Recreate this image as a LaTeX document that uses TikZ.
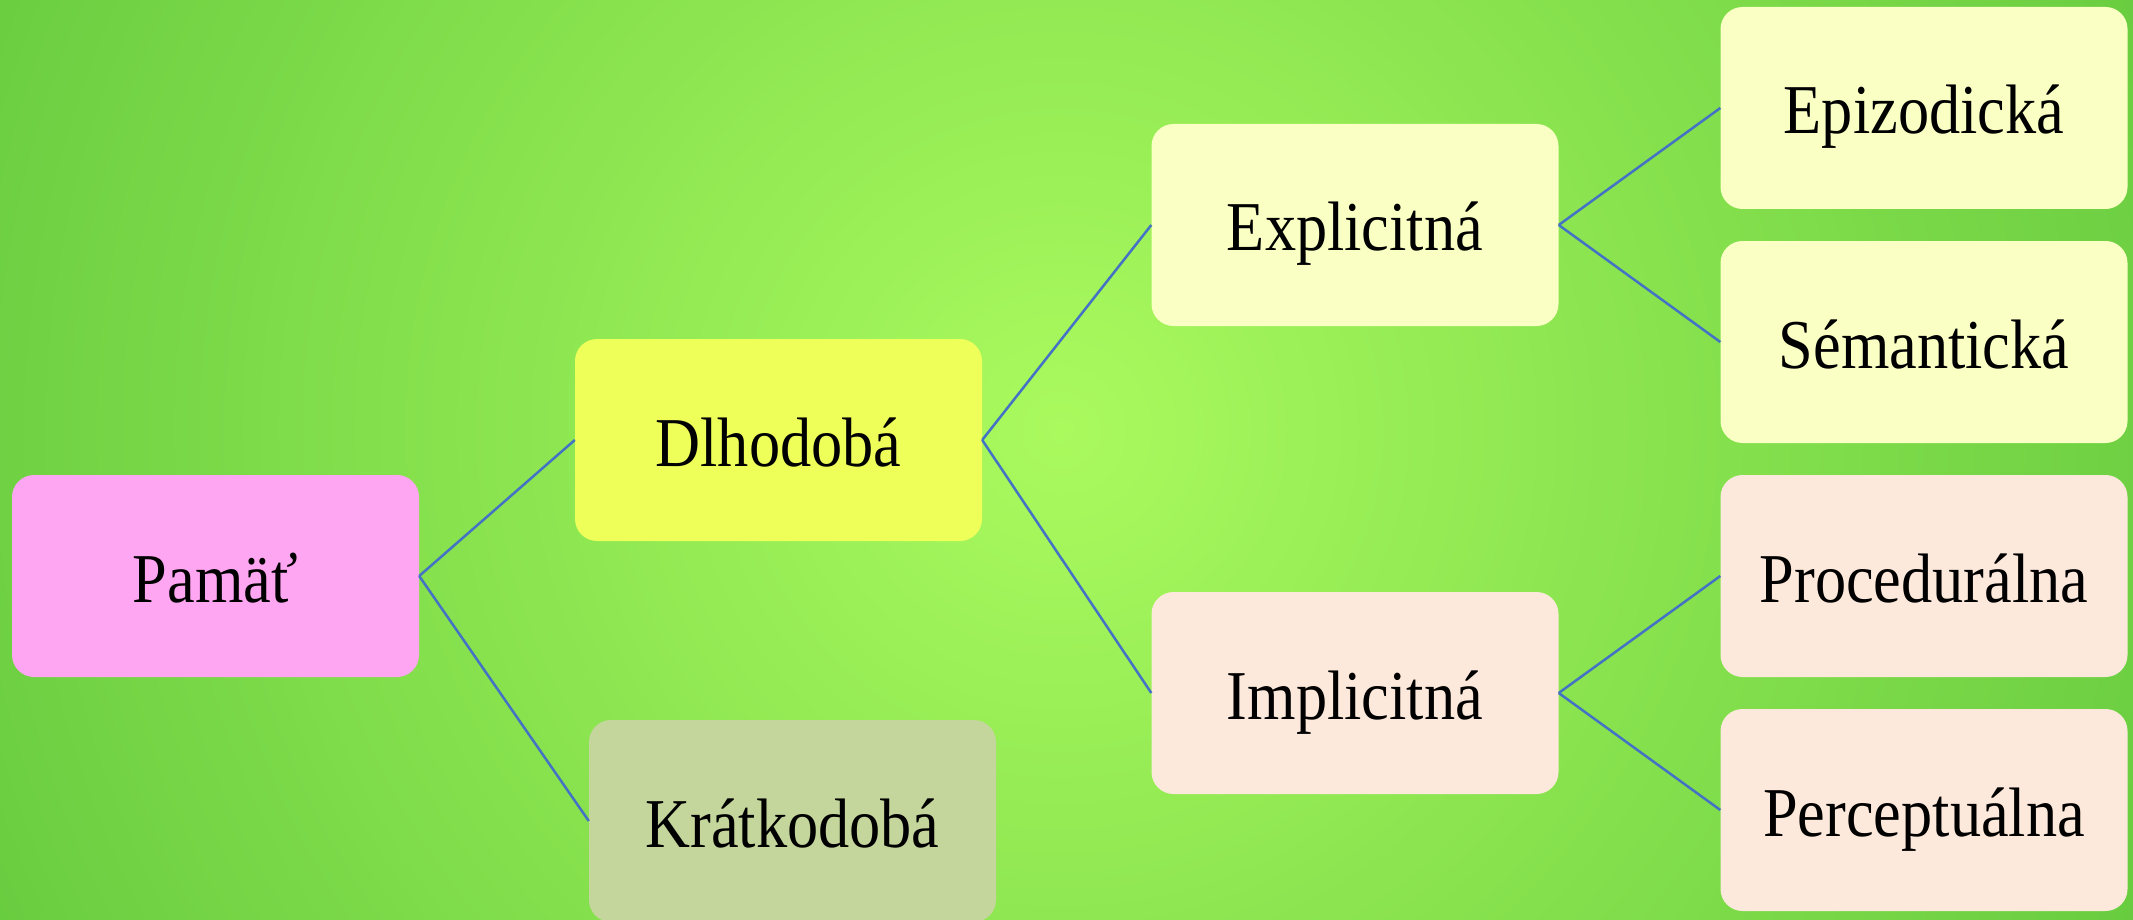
\documentclass[tikz,border=0pt]{standalone}
\usepackage{graphicx}
\usepackage{fontspec}
\setmainfont{Liberation Serif}
\definecolor{bgin}{RGB}{170,250,94}
\definecolor{bgout}{RGB}{70,180,48}
\definecolor{linkblue}{RGB}{68,114,196}
\definecolor{cpink}{RGB}{255,166,242}
\definecolor{cyellow}{RGB}{238,255,90}
\definecolor{colive}{RGB}{196,214,156}
\definecolor{ccream}{RGB}{250,255,196}
\definecolor{cpeach}{RGB}{253,233,219}
\newcommand\narrowtxt[1]{\scalebox{0.89}[1]{#1}}
\tikzset{
  box/.style={rounded corners=22pt, minimum width=407pt, minimum height=202pt,
    inner sep=0pt, text height=62pt, text depth=10pt,
    font=\fontsize{70}{80}\selectfont, text=black, anchor=center},
  link/.style={draw=linkblue, line width=2.5pt}
}
\begin{document}
\begin{tikzpicture}[x=1pt,y=-1pt]
\useasboundingbox (0,0) rectangle (2133,920);
\begin{scope}
  \clip (0,0) rectangle (2133,920);
  \shade[inner color=bgin, outer color=bgout] (1061,430) circle (1800);
\end{scope}
\node[box, fill=cpink]   (pamat) at (215.5,576) {\narrowtxt{Pamäť}};
\node[box, fill=cyellow] (dlho)  at (778.5,440) {\narrowtxt{Dlhodobá}};
\node[box, fill=colive]  (krat)  at (792.5,821) {\narrowtxt{Krátkodobá}};
\node[box, fill=ccream]  (expl)  at (1355,225) {\narrowtxt{Explicitná}};
\node[box, fill=cpeach]  (impl)  at (1355,693) {\narrowtxt{Implicitná}};
\node[box, fill=ccream]  (epiz)  at (1924,108) {\narrowtxt{Epizodická}};
\node[box, fill=ccream]  (sema)  at (1924,342) {\narrowtxt{Sémantická}};
\node[box, fill=cpeach]  (proc)  at (1924,576) {\narrowtxt{Procedurálna}};
\node[box, fill=cpeach]  (perc)  at (1924,810) {\narrowtxt{Perceptuálna}};
\draw[link] (pamat.east) -- (dlho.west);
\draw[link] (pamat.east) -- (krat.west);
\draw[link] (dlho.east) -- (expl.west);
\draw[link] (dlho.east) -- (impl.west);
\draw[link] (expl.east) -- (epiz.west);
\draw[link] (expl.east) -- (sema.west);
\draw[link] (impl.east) -- (proc.west);
\draw[link] (impl.east) -- (perc.west);
\end{tikzpicture}
\end{document}
